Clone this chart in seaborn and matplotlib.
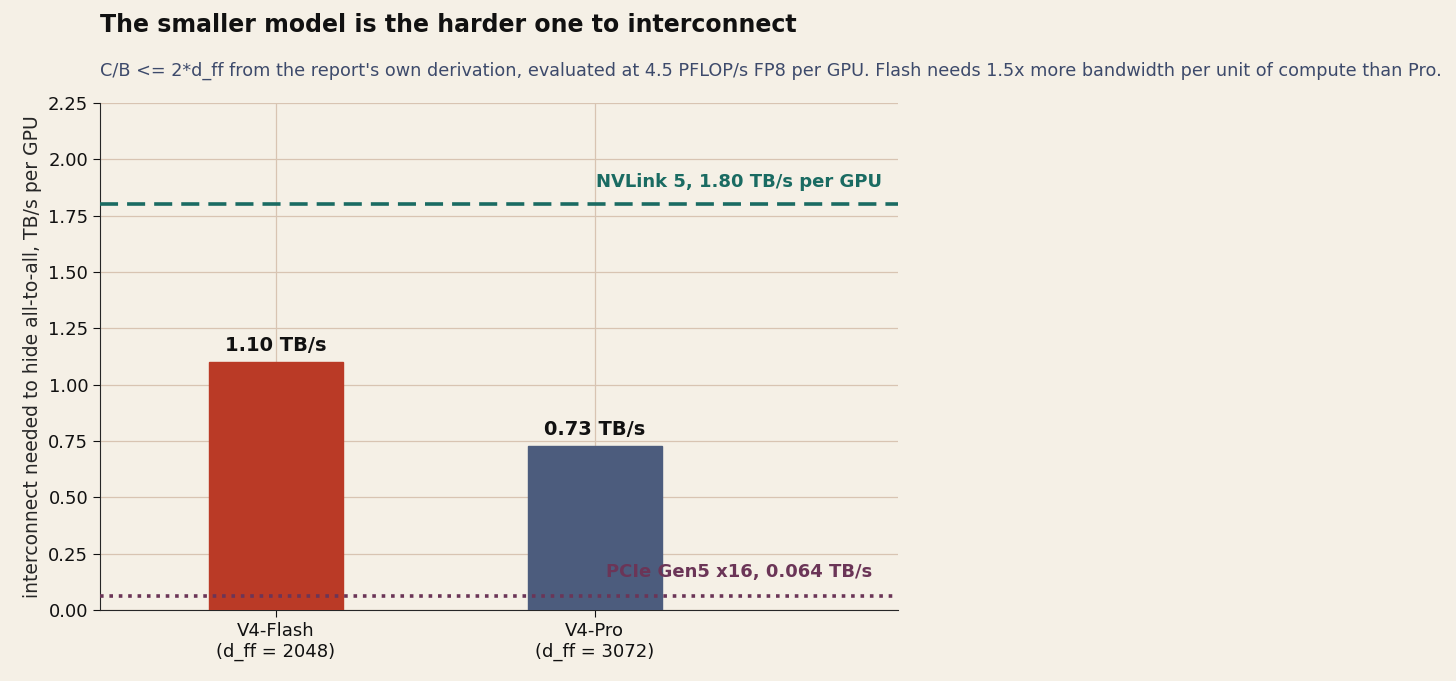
import matplotlib
matplotlib.use("Agg")
import matplotlib.pyplot as plt
import seaborn as sns
import pandas as pd

models = ["V4-Flash\n(d_ff = 2048)", "V4-Pro\n(d_ff = 3072)"]
bandwidth = [1.10, 0.73]
bar_colors = ["#BA3A26", "#4C5C7D"]
nvlink = 1.80
pcie = 0.064

bg = "#F5F0E6"
sns.set_style("white")
plt.rcParams["font.family"] = ["DejaVu Sans"]

df = pd.DataFrame({"model": models, "bw": bandwidth})

fig = plt.figure(figsize=(14.56, 6.81), dpi=100, facecolor=bg)
ax = fig.add_axes([0.0687, 0.104, 0.548, 0.745])
ax.set_facecolor(bg)

sns.barplot(data=df, x="model", y="bw", hue="model", palette=bar_colors,
            width=0.42, legend=False, ax=ax, zorder=3, saturation=1)
for p in ax.patches:
    p.set_edgecolor(p.get_facecolor())

for i, v in enumerate(bandwidth):
    ax.text(i, v + 0.03, f"{v:.2f} TB/s", ha="center", va="bottom",
            fontsize=14, fontweight="bold", color="#111111", zorder=4)

ax.axhline(nvlink, color="#1A6B62", lw=2.6, ls=(0, (5, 2.5)), zorder=4)
ax.text(1.90, nvlink + 0.06, "NVLink 5, 1.80 TB/s per GPU", ha="right", va="bottom",
        fontsize=13, fontweight="bold", color="#1A6B62")
ax.axhline(pcie, color="#6B3557", lw=2.6, ls=(0, (1, 1.6)), zorder=4)
ax.text(1.87, 0.17, "PCIe Gen5 x16, 0.064 TB/s", ha="right", va="center",
        fontsize=13, fontweight="bold", color="#6B3557", zorder=5)

ax.set_xlim(-0.55, 1.95)
ax.set_ylim(0, 2.25)
ax.set_yticks([i * 0.25 for i in range(10)])
ax.grid(True, color="#D8C4B2", lw=0.9, zorder=0)
ax.set_axisbelow(True)
ax.set_xlabel("")
ax.set_ylabel("interconnect needed to hide all-to-all, TB/s per GPU", fontsize=13.5)
ax.tick_params(axis="both", labelsize=13, length=5, left=True, bottom=True,
               colors="#111111")
sns.despine(ax=ax)

fig.text(0.0687, 0.963, "The smaller model is the harder one to interconnect",
         fontsize=17, fontweight="bold", color="#111111", va="center")
fig.text(0.0687, 0.896, "C/B <= 2*d_ff from the report's own derivation, evaluated at 4.5 PFLOP/s FP8 per GPU. "
         "Flash needs 1.5x more bandwidth per unit of compute than Pro.",
         fontsize=12.7, color="#3D4A6B", va="center")

fig.savefig("out.png", dpi=100, facecolor=bg)
